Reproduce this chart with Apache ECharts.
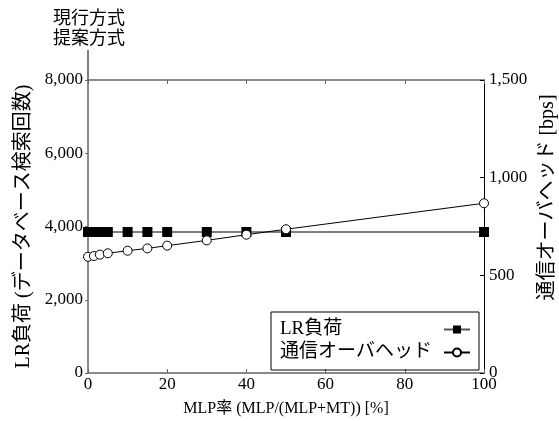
<!DOCTYPE html>
<html>
<head>
<meta charset="utf-8">
<script src="https://cdn.jsdelivr.net/npm/echarts@6/dist/echarts.min.js"></script>
<style>html,body{margin:0;padding:0;background:#fff;}#c{width:559px;height:421px;}</style>
</head>
<body>
<div id="c"></div>
<script>
// ---- data ----
const xTicks = [0, 20, 40, 60, 80, 100];
const lrX = [0, 1, 2, 3, 4, 5, 10, 15, 20, 30, 40, 50, 100];
const lrLoad = [3850, 3850, 3850, 3850, 3850, 3850, 3850, 3850, 3850, 3850, 3850, 3850, 3850];
const ohX = [0, 1.5, 3, 5, 10, 15, 20, 30, 40, 50, 100];
const overhead = [595, 599, 606, 613, 626, 638, 652, 679, 708, 736, 869];
const seriesNames = ['LR負荷', '通信オーバヘッド'];
const topLabel = '現行方式\n提案方式';

const FONT = "'Liberation Serif', 'Noto Sans CJK JP', serif";
const chart = echarts.init(document.getElementById('c'));
const fmt = v => v.toLocaleString('en-US');

chart.setOption({
  animation: false,
  backgroundColor: '#fff',
  textStyle: { fontFamily: FONT, color: '#000' },
  grid: { left: 88, right: 75, top: 80, bottom: 48, containLabel: false, outerBoundsMode: 'none' },
  legend: {
    data: seriesNames,
    orient: 'vertical',
    align: 'right',
    left: 271, top: 312,
    padding: [8, 8, 8, 9],
    itemGap: 4,
    itemWidth: 26, itemHeight: 10,
    borderColor: '#000', borderWidth: 1,
    formatter: '{a|{name}}',
    textStyle: {
      fontFamily: FONT, fontSize: 19, color: '#000',
      rich: { a: { width: 159, align: 'left', fontFamily: FONT, fontSize: 19, color: '#000' } }
    }
  },
  graphic: [
    { type: 'line', shape: { x1: 88, y1: 50, x2: 88, y2: 80 }, style: { stroke: '#000', lineWidth: 1 } },
    { type: 'text', left: 53, top: 7, style: { text: topLabel, font: "18px 'Noto Sans CJK JP'", fill: '#000', lineHeight: 20 } }
  ],
  xAxis: [{
    type: 'value', min: 0, max: 100, interval: 20,
    position: 'bottom',
    name: 'MLP率 (MLP/(MLP+MT)) [%]', nameLocation: 'middle', nameGap: 28,
    nameTextStyle: { fontFamily: FONT, fontSize: 16, color: '#000' },
    axisLine: { onZero: false, lineStyle: { color: '#666', width: 1.5 } },
    axisTick: { inside: true, length: 4, lineStyle: { color: '#666' } },
    axisLabel: { fontFamily: FONT, fontSize: 17, color: '#000', margin: 3 },
    splitLine: { show: false }
  }, {
    type: 'value', min: 0, max: 100, interval: 20,
    position: 'top',
    axisLine: { onZero: false, lineStyle: { color: '#666', width: 1.5 } },
    axisTick: { inside: true, length: 4, lineStyle: { color: '#666' } },
    axisLabel: { show: false },
    splitLine: { show: false }
  }],
  yAxis: [{
    type: 'value', min: 0, max: 8000, interval: 2000,
    position: 'left',
    name: 'LR負荷 (データベース検索回数)', nameLocation: 'middle', nameGap: 50, nameRotate: 90,
    nameTextStyle: { fontFamily: FONT, fontSize: 20, color: '#000' },
    axisLine: { show: true, onZero: false, lineStyle: { color: '#666', width: 1.5 } },
    axisTick: { show: true, inside: false, length: 3, lineStyle: { color: '#666' } },
    axisLabel: { fontFamily: FONT, fontSize: 17, color: '#000', margin: 5, formatter: fmt },
    splitLine: { show: false }
  }, {
    type: 'value', min: 0, max: 1500, interval: 500,
    position: 'right',
    name: '通信オーバヘッド [bps]', nameLocation: 'middle', nameGap: 44, nameRotate: 90,
    nameTextStyle: { fontFamily: FONT, fontSize: 20, color: '#000', padding: [0, 0, 0, 58] },
    axisLine: { show: true, onZero: false, lineStyle: { color: '#000', width: 1 } },
    axisTick: { show: true, inside: true, length: 4, lineStyle: { color: '#000' } },
    axisLabel: { fontFamily: FONT, fontSize: 17, color: '#000', margin: 5, formatter: fmt },
    splitLine: { show: false }
  }],
  series: [{
    name: seriesNames[0], type: 'line', xAxisIndex: 0, yAxisIndex: 0,
    data: lrX.map((x, i) => [x, lrLoad[i]]),
    symbol: 'rect', symbolSize: 10,
    lineStyle: { color: '#555', width: 1.5 },
    itemStyle: { color: '#000', borderColor: '#000', borderWidth: 0 },
    z: 3
  }, {
    name: seriesNames[1], type: 'line', xAxisIndex: 0, yAxisIndex: 1,
    data: ohX.map((x, i) => [x, overhead[i]]),
    symbol: 'circle', symbolSize: 9, showAllSymbol: true,
    lineStyle: { color: '#000', width: 1 },
    itemStyle: { color: '#fff', borderColor: '#000', borderWidth: 1 },
    z: 4
  }]
});
</script>
</body>
</html>
